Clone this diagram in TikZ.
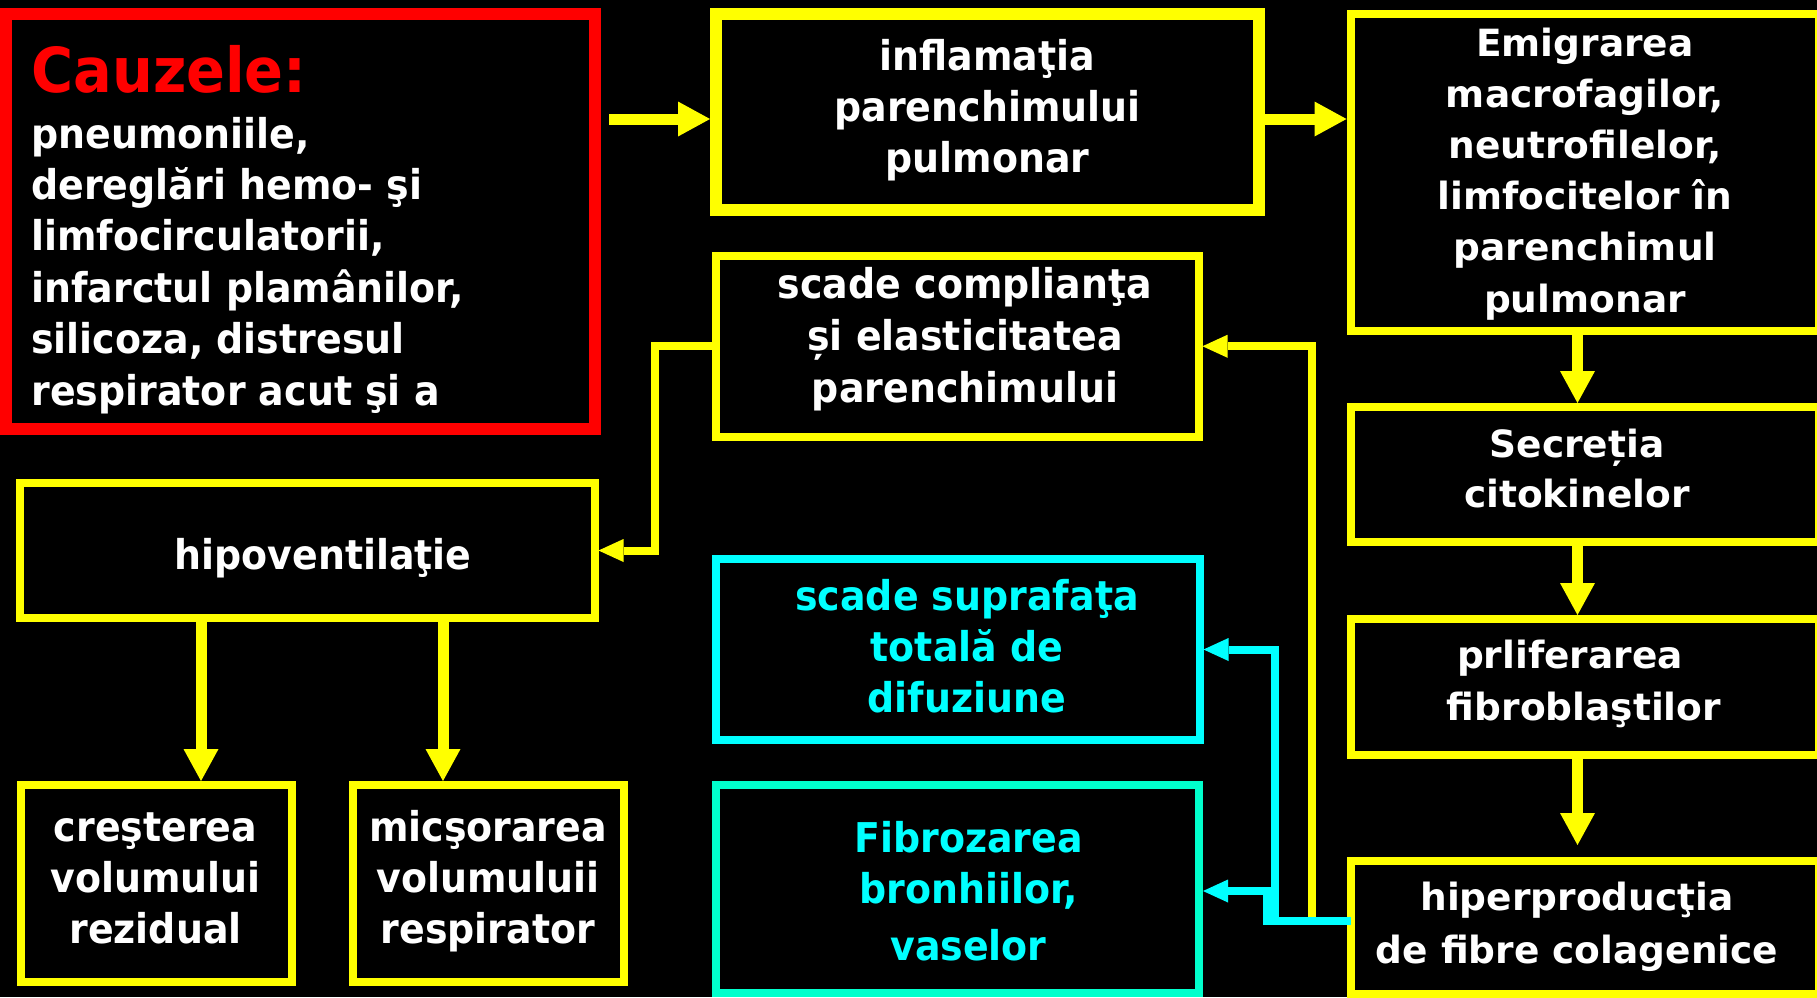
\documentclass[tikz,border=0pt]{standalone}
\usepackage{fontspec}
\newfontfamily\tah[FakeStretch=0.925]{DejaVu Sans}
\newfontfamily\verd{DejaVu Sans}
\usetikzlibrary{arrows.meta,calc}
\definecolor{myred}{RGB}{255,0,0}
\definecolor{myyel}{RGB}{255,255,0}
\definecolor{mycyan}{RGB}{0,255,255}
\definecolor{myaqua}{RGB}{0,255,204}
\begin{document}
\begin{tikzpicture}[x=0.5pt,y=-0.5pt,
  bx/.style n args={3}{draw=#3, rectangle, inner sep=0pt, minimum width=#1*0.5pt, minimum height=#2*0.5pt},
  tt/.style={text=white, font=\tah\bfseries\fontsize{20.5}{25.5}\selectfont, align=center, anchor=base, inner sep=0pt},
  vt/.style={text=white, font=\verd\bfseries\fontsize{18.75}{25.6}\selectfont, align=center, anchor=base, inner sep=0pt},
  mainarrow/.style={draw=myyel, line width=5.5pt, -{Triangle[length=16pt,width=17.5pt,line width=0pt]}},
  fbarrow/.style={line width=4pt, -{Triangle[length=12.5pt,width=11.5pt,line width=0pt]}}]
\useasboundingbox (0,0) rectangle (1817,997);
\fill[black] (0,0) rectangle (1817,997);

% boxes
\node[bx={589}{415.5}{myred}, line width=6pt] (cauze) at (300.5,221.25) {};
\node[bx={543}{196.5}{myyel}, line width=6pt] (infl) at (987.5,111.75) {};
\node[bx={468.5}{317}{myyel}, line width=4pt] (emig) at (1584.75,172.5) {};
\node[bx={468.5}{135}{myyel}, line width=4pt] (secr) at (1584.75,474.5) {};
\node[bx={468.5}{135.5}{myyel}, line width=4pt] (prol) at (1584.75,686.75) {};
\node[bx={468.5}{133}{myyel}, line width=4pt] (hiper) at (1584.75,927) {};
\node[bx={483}{181.5}{myyel}, line width=4pt] (scomp) at (957,346.25) {};
\node[bx={574.5}{135}{myyel}, line width=4pt] (hipo) at (307.25,550.5) {};
\node[bx={271.5}{197}{myyel}, line width=4pt] (cres) at (156.25,883.5) {};
\node[bx={271}{197}{myyel}, line width=4pt] (mics) at (488.5,883.5) {};
\node[bx={484}{181}{mycyan}, line width=4pt] (ssup) at (957.5,649.5) {};
\node[bx={483}{208}{myaqua}, line width=4pt] (fibr) at (957.5,889) {};

% texts (anchor base = baseline of the last line)
\node[tt, anchor=base west, text=myred, font=\tah\bfseries\fontsize{31}{31}\selectfont] (t-cz) at (31,92) {Cauzele:};
\node[tt, anchor=base west, align=left, font=\tah\bfseries\fontsize{20.5}{25.7}\selectfont] (t-cz2) at (31,405)
  {pneumoniile,\\dereglări hemo- şi\\limfocirculatorii,\\infarctul plamânilor,\\silicoza, distresul\\respirator acut şi a};
\node[tt] (t-infl) at (987.5,172) {inflamaţia\\parenchimului\\pulmonar};
\node[vt] (t-emig) at (1585,312) {Emigrarea\\macrofagilor,\\neutrofilelor,\\limfocitelor în\\parenchimul\\pulmonar};
\node[vt, font=\verd\bfseries\fontsize{18.75}{25}\selectfont] (t-secr) at (1577,507) {Secreția\\citokinelor};
\node[vt, font=\verd\bfseries\fontsize{18.75}{26}\selectfont] (t-prol) at (1584,720) {prliferarea\hspace*{14pt}\\fibroblaştilor};
\node[vt, font=\verd\bfseries\fontsize{18.75}{26.5}\selectfont] (t-hiper) at (1577,963) {hiperproducţia\\de fibre colagenice};
\node[tt, font=\tah\bfseries\fontsize{20.5}{26}\selectfont] (t-scomp) at (965,402) {scade complianţa\\și elasticitatea\\parenchimului};
\node[tt] (t-hipo) at (323,569) {hipoventilaţie};
\node[tt] (t-cres) at (155.5,943.5) {creşterea\\volumului\\rezidual};
\node[tt] (t-mics) at (488,943.5) {micşorarea\\volumuluii\\respirator};
\node[tt, text=mycyan] (t-ssup) at (967,712) {scade suprafaţa\\totală de\\difuziune};
\node[tt, text=mycyan] (t-fibr) at (968.5,960) {Fibrozarea\\bronhiilor,\\[3pt]vaselor};

% main arrows
\coordinate (r1) at (0,119);
\draw[mainarrow] ($(cauze.east |- r1)+(8,0)$) -- (infl.west |- r1);
\draw[mainarrow] (infl.east |- r1) -- (emig.west |- r1);
\coordinate (rc) at (1577.5,0);
\draw[mainarrow] (emig.south -| rc) -- (secr.north -| rc);
\draw[mainarrow] (secr.south -| rc) -- (prol.north -| rc);
\draw[mainarrow] (prol.south -| rc) -- ($(hiper.north -| rc)+(0,-11.5)$);
\coordinate (d1) at (201,0);
\coordinate (d2) at (443,0);
\draw[mainarrow] (hipo.south -| d1) -- (cres.north -| d1);
\draw[mainarrow] (hipo.south -| d2) -- (mics.north -| d2);

% feedback arrows
\coordinate (fbL) at (655,0);
\draw[fbarrow, draw=myyel] (scomp.west) -- (scomp.west -| fbL) |- (hipo.east);
\coordinate (fbR) at (1312,921);
\draw[fbarrow, draw=myyel] (hiper.west |- fbR) -- (fbR) |- (scomp.east);
\coordinate (cA) at (1275,921);
\coordinate (cB) at (1267,921);
\draw[fbarrow, draw=mycyan] ($(hiper.west |- cA)+(4,0)$) -- (cA) |- (ssup.east);
\draw[fbarrow, draw=mycyan] ($(hiper.west |- cB)+(4,0)$) -- (cB) |- ($(fibr.east)+(0,2)$);
\end{tikzpicture}
\end{document}
